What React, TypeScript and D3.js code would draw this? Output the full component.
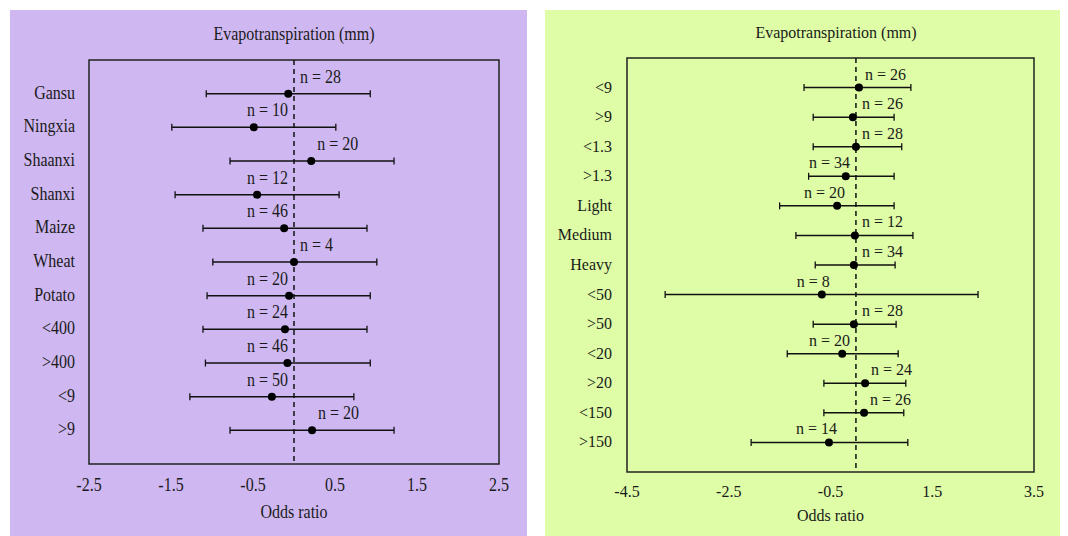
import React, { useEffect, useRef } from 'react';
import * as d3 from 'd3';

// Left panel: region / crop / ET / other groups
const leftCategories = ['Gansu', 'Ningxia', 'Shaanxi', 'Shanxi', 'Maize', 'Wheat', 'Potato', '<400', '>400', '<9', '>9'];
const leftOdds = [-0.07, -0.49, 0.21, -0.45, -0.12, 0.0, -0.06, -0.11, -0.08, -0.27, 0.22];
const leftLower = [-1.07, -1.49, -0.78, -1.45, -1.11, -0.99, -1.06, -1.11, -1.08, -1.27, -0.78];
const leftUpper = [0.93, 0.51, 1.22, 0.55, 0.89, 1.01, 0.93, 0.89, 0.93, 0.73, 1.22];
const leftN = [28, 10, 20, 12, 46, 4, 20, 24, 46, 50, 20];
const leftLabelSide = ['r', 'l', 'r', 'l', 'l', 'r', 'l', 'l', 'l', 'l', 'r'];
const leftTicks = [-2.5, -1.5, -0.5, 0.5, 1.5, 2.5];

// Right panel
const rightCategories = ['<9', '>9', '<1.3', '>1.3', 'Light', 'Medium', 'Heavy', '<50', '>50', '<20', '>20', '<150', '>150'];
const rightOdds = [0.06, -0.06, 0.0, -0.2, -0.37, -0.02, -0.04, -0.67, -0.04, -0.27, 0.18, 0.16, -0.53];
const rightLower = [-1.02, -0.84, -0.84, -0.93, -1.5, -1.18, -0.8, -3.75, -0.84, -1.35, -0.63, -0.63, -2.06];
const rightUpper = [1.08, 0.75, 0.9, 0.75, 0.75, 1.12, 0.77, 2.4, 0.79, 0.83, 0.98, 0.94, 1.02];
const rightN = [26, 26, 28, 34, 20, 12, 34, 8, 28, 20, 24, 26, 14];
const rightLabelSide = ['r', 'r', 'r', 'l', 'l', 'r', 'r', 'l', 'r', 'l', 'r', 'r', 'l'];
const rightTicks = [-4.5, -2.5, -0.5, 1.5, 3.5];

const FONT = '"Liberation Serif", "Times New Roman", serif';

const panels = [
  {
    bg: '#cfb8f1', px: 10, pw: 517,
    box: [89, 60, 499, 464], domain: [-2.5, 2.5],
    cats: leftCategories, odds: leftOdds, lo: leftLower, hi: leftUpper, n: leftN, side: leftLabelSide,
    ticks: leftTicks, labelX: 75, nDy: -11, titleX: 294, titleY: 40, tickY: 491, xTitleY: 518,
    leftPad: 6, rightPad: 40, sy: 1.2,
  },
  {
    bg: '#defda6', px: 545, pw: 515,
    box: [627, 58, 1034, 472], domain: [-4.5, 3.5],
    cats: rightCategories, odds: rightOdds, lo: rightLower, hi: rightUpper, n: rightN, side: rightLabelSide,
    ticks: rightTicks, labelX: 612, nDy: -8, titleX: 836, titleY: 38, tickY: 497, xTitleY: 521,
    leftPad: 6, rightPad: 8, sy: 1.05,
  },
];

const App = () => {
  const ref = useRef<SVGSVGElement | null>(null);

  useEffect(() => {
    const svg = d3.select(ref.current);
    svg.selectAll('*').remove();
    svg.style('font-family', FONT);

    panels.forEach((p) => {
      const [x0, y0, x1, y1] = p.box;
      const g = svg.append('g');
      const at = (tx: number, ty: number) => `translate(${tx},${ty}) scale(1,${p.sy})`;

      g.append('rect')
        .attr('x', p.px).attr('y', 10)
        .attr('width', p.pw).attr('height', 526)
        .attr('fill', p.bg);

      const x = d3.scaleLinear().domain(p.domain).range([x0, x1]);
      const rows = d3.range(p.cats.length);
      const y = d3.scalePoint<number>().domain(rows).range([y0, y1]).padding(1);

      // box
      g.append('rect')
        .attr('x', x0).attr('y', y0)
        .attr('width', x1 - x0).attr('height', y1 - y0)
        .attr('fill', 'none').attr('stroke', '#222').attr('stroke-width', 1.5);

      // zero reference line
      g.append('line')
        .attr('x1', x(0)).attr('x2', x(0))
        .attr('y1', y0).attr('y2', y1)
        .attr('stroke', '#111').attr('stroke-width', 1.5)
        .attr('stroke-dasharray', '5,4');

      // category labels
      g.selectAll('text.cat')
        .data(rows)
        .join('text')
        .attr('class', 'cat')
        .attr('transform', (i) => at(p.labelX, (y(i) as number) + 5))
        .attr('text-anchor', 'end')
        .attr('font-size', 16)
        .attr('fill', '#1a1a1a')
        .text((i) => p.cats[i]);

      // CI lines
      const ci = g.selectAll('g.ci').data(rows).join('g').attr('class', 'ci');
      ci.append('line')
        .attr('x1', (i) => x(p.lo[i])).attr('x2', (i) => x(p.hi[i]))
        .attr('y1', (i) => y(i) as number).attr('y2', (i) => y(i) as number)
        .attr('stroke', '#111').attr('stroke-width', 1.5);
      ci.append('line')
        .attr('x1', (i) => x(p.lo[i])).attr('x2', (i) => x(p.lo[i]))
        .attr('y1', (i) => (y(i) as number) - 3.5).attr('y2', (i) => (y(i) as number) + 3.5)
        .attr('stroke', '#111').attr('stroke-width', 1.3);
      ci.append('line')
        .attr('x1', (i) => x(p.hi[i])).attr('x2', (i) => x(p.hi[i]))
        .attr('y1', (i) => (y(i) as number) - 3.5).attr('y2', (i) => (y(i) as number) + 3.5)
        .attr('stroke', '#111').attr('stroke-width', 1.3);
      ci.append('circle')
        .attr('cx', (i) => x(p.odds[i]))
        .attr('cy', (i) => y(i) as number)
        .attr('r', 4)
        .attr('fill', '#000');

      // n labels
      g.selectAll('text.n')
        .data(rows)
        .join('text')
        .attr('class', 'n')
        .attr('transform', (i) => at(
          p.side[i] === 'r'
            ? Math.max(x(p.odds[i]), x(0)) + p.leftPad
            : Math.min(x(0) - 6, x(p.odds[i]) + p.rightPad),
          (y(i) as number) + p.nDy,
        ))
        .attr('text-anchor', (i) => (p.side[i] === 'r' ? 'start' : 'end'))
        .attr('font-size', 16)
        .attr('fill', '#1a1a1a')
        .text((i) => `n = ${p.n[i]}`);

      // tick labels (plain hyphen as in the original)
      g.selectAll('text.tick')
        .data(p.ticks)
        .join('text')
        .attr('class', 'tick')
        .attr('transform', (d) => at(x(d), p.tickY))
        .attr('text-anchor', 'middle')
        .attr('font-size', 16)
        .attr('fill', '#1a1a1a')
        .text((d) => d.toFixed(1));

      g.append('text')
        .attr('transform', at((x0 + x1) / 2, p.xTitleY))
        .attr('text-anchor', 'middle')
        .attr('font-size', 16)
        .attr('fill', '#1a1a1a')
        .text('Odds ratio');

      g.append('text')
        .attr('transform', at(p.titleX, p.titleY))
        .attr('text-anchor', 'middle')
        .attr('font-size', 16)
        .attr('fill', '#1a1a1a')
        .text('Evapotranspiration (mm)');
    });
  }, []);

  return (
    <div style={{ position: 'fixed', top: 0, left: 0, width: 1068, height: 536, background: '#fff' }}>
      <svg ref={ref} width={1068} height={536} />
    </div>
  );
};

export default App;
